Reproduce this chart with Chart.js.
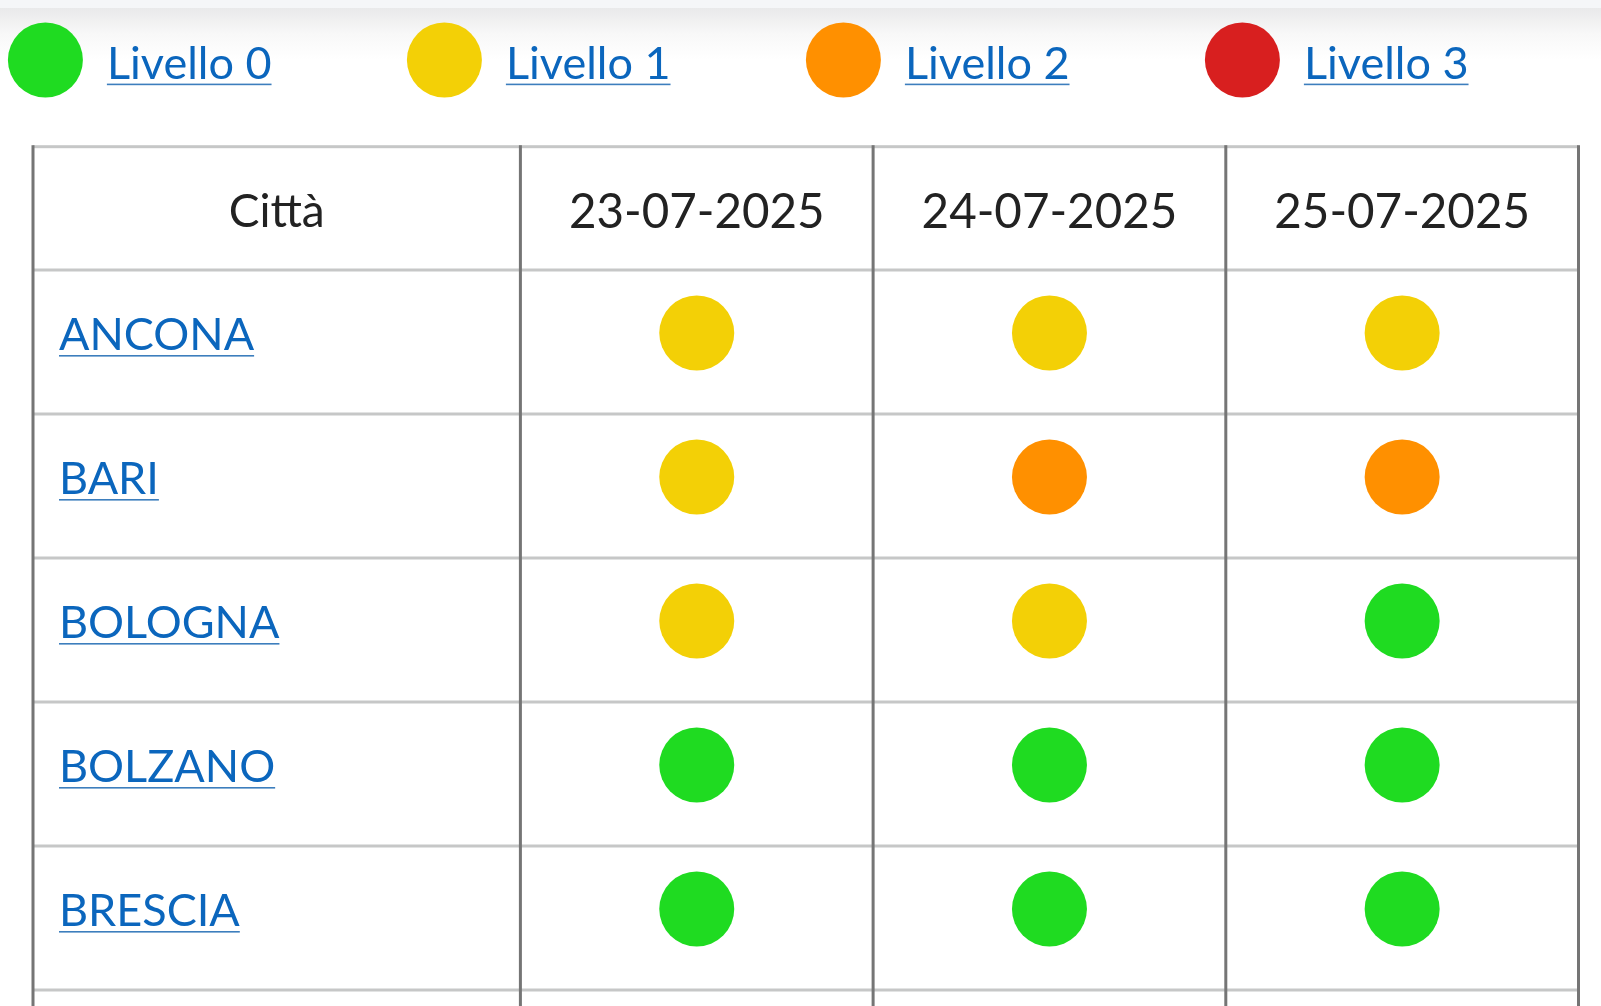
<!DOCTYPE html>
<html lang="it">
<head>
<meta charset="utf-8">
<title>Livelli di rischio per città</title>
<script src="https://cdn.jsdelivr.net/npm/chart.js@4"></script>
<style>
html,body{margin:0;padding:0;background:#fff;overflow:hidden}
canvas{display:block}
</style>
</head>
<body>
<canvas id="c" width="1601" height="1006"></canvas>
<script>
const cities = ["ANCONA", "BARI", "BOLOGNA", "BOLZANO", "BRESCIA"];
const dates = ["23-07-2025", "24-07-2025", "25-07-2025"];
const levels23 = [1, 1, 1, 0, 0];
const levels24 = [1, 2, 1, 0, 0];
const levels25 = [1, 2, 0, 0, 0];
const cityHeader = "Città";
const legendLabels = ["Livello 0", "Livello 1", "Livello 2", "Livello 3"];
const levelColors = ["#1fdb21", "#f3d006", "#ff9000", "#d81f1f"];

const LEGEND_FONT = '45px Lato';
const HEAD_FONT = '46px Lato';
const CITY_FONT = {family: 'Lato', size: 45};
const CITY_CSS = '45px Lato';
const LINK = '#0b66bd';
const INK = '#222222';
const ROW_SHIFT = 9; // marks sit slightly above the centre of each row
const T = {left:33, right:1578.5, top:146.7, headBottom:270, bottom:1006};

function underline(ctx, x, y, w){
  ctx.fillStyle = '#3d7ebd';
  ctx.fillRect(x, y, w, 1.6);
}

const tablePlugin = {
  id:'table',
  beforeDraw(chart){
    const {ctx, scales:{x, y}} = chart;
    ctx.save();
    ctx.fillStyle = '#f5f6f8';
    ctx.fillRect(0, 0, 1601, 8);
    const g = ctx.createLinearGradient(0, 8, 0, 60);
    g.addColorStop(0, '#e9e9ea');
    g.addColorStop(0.5, '#f8f8f8');
    g.addColorStop(1, '#ffffff');
    ctx.fillStyle = g;
    ctx.fillRect(0, 8, 1601, 52);

    const step = y.getPixelForValue(1) - y.getPixelForValue(0);
    ctx.fillStyle = '#c6c7c7';
    ctx.fillRect(T.left, T.top - 1.5, T.right - T.left, 3);
    for (let i = 0; i <= cities.length; i++) {
      const py = y.getPixelForValue(0) - step / 2 + i * step + ROW_SHIFT;
      ctx.fillRect(T.left, py - 1.5, T.right - T.left, 3);
    }
    const xStep = x.getPixelForValue(1) - x.getPixelForValue(0);
    ctx.fillStyle = '#757575';
    const vx = [T.left];
    for (let i = 0; i <= dates.length; i++) vx.push(x.getPixelForValue(0) - xStep / 2 + i * xStep);
    vx.forEach(v => ctx.fillRect(v - 1.5, T.top - 1.5, 3, T.bottom - T.top + 1.5));
    ctx.restore();
  },
  afterDraw(chart){
    const {ctx, scales:{y}} = chart;
    ctx.save();
    ctx.font = LEGEND_FONT;
    legendLabels.forEach((label, i) => {
      const cx = 45.4 + i * 399;
      ctx.beginPath();
      ctx.arc(cx, 60, 37.5, 0, Math.PI * 2);
      ctx.fillStyle = levelColors[i];
      ctx.fill();
      const tx = cx + 61.5;
      ctx.fillStyle = LINK;
      ctx.textAlign = 'left';
      ctx.textBaseline = 'alphabetic';
      ctx.fillText(label, tx, 79);
      underline(ctx, tx, 83.6, ctx.measureText(label).width);
    });
    ctx.font = HEAD_FONT;
    ctx.fillStyle = INK;
    ctx.textAlign = 'center';
    ctx.textBaseline = 'alphabetic';
    ctx.fillText(cityHeader, (T.left + 520.4) / 2, 226.7);
    ctx.font = CITY_CSS;
    ctx.textAlign = 'left';
    cities.forEach((c, i) => {
      underline(ctx, y.left, y.getPixelForValue(i) + 22, ctx.measureText(c).width);
    });
    ctx.restore();
  }
};

const series = [levels23, levels24, levels25].map((levels, d) => ({
  label: dates[d],
  data: levels.map((_, i) => ({x: dates[d], y: cities[i]})),
  showLine: false,
  pointStyle: 'circle',
  pointRadius: 37.5,
  pointHoverRadius: 37.5,
  borderWidth: 0,
  pointBorderWidth: 0,
  pointBackgroundColor: levels.map(l => levelColors[l])
}));

new Chart(document.getElementById('c'), {
  type: 'line',
  data: {labels: dates, datasets: series},
  options: {
    responsive: false,
    animation: false,
    devicePixelRatio: 1,
    layout: {autoPadding: false, padding: {left: 59, right: 1601 - T.right, top: T.top, bottom: 16 + ROW_SHIFT}},
    plugins: {legend: {display: false}, title: {display: false}, tooltip: {enabled: false}},
    scales: {
      x: {
        type: 'category', position: 'top', labels: dates, offset: true,
        grid: {display: false, drawTicks: false},
        border: {display: false},
        ticks: {color: INK, font: {family: 'Lato', size: 47.5}, padding: 20, maxRotation: 0, autoSkip: false},
        afterFit(s){ s.height = T.headBottom - ROW_SHIFT - T.top; s.paddingLeft = 0; s.paddingRight = 0; }
      },
      y: {
        type: 'category', position: 'left', labels: cities, offset: true,
        grid: {display: false, drawTicks: false},
        border: {display: false},
        ticks: {color: LINK, font: CITY_FONT, crossAlign: 'far', padding: 0, labelOffset: 2, autoSkip: false},
        afterFit(s){ s.width = 520.4 - 59; s.paddingTop = 0; s.paddingBottom = 0; }
      }
    }
  },
  plugins: [tablePlugin]
});
</script>
</body>
</html>
